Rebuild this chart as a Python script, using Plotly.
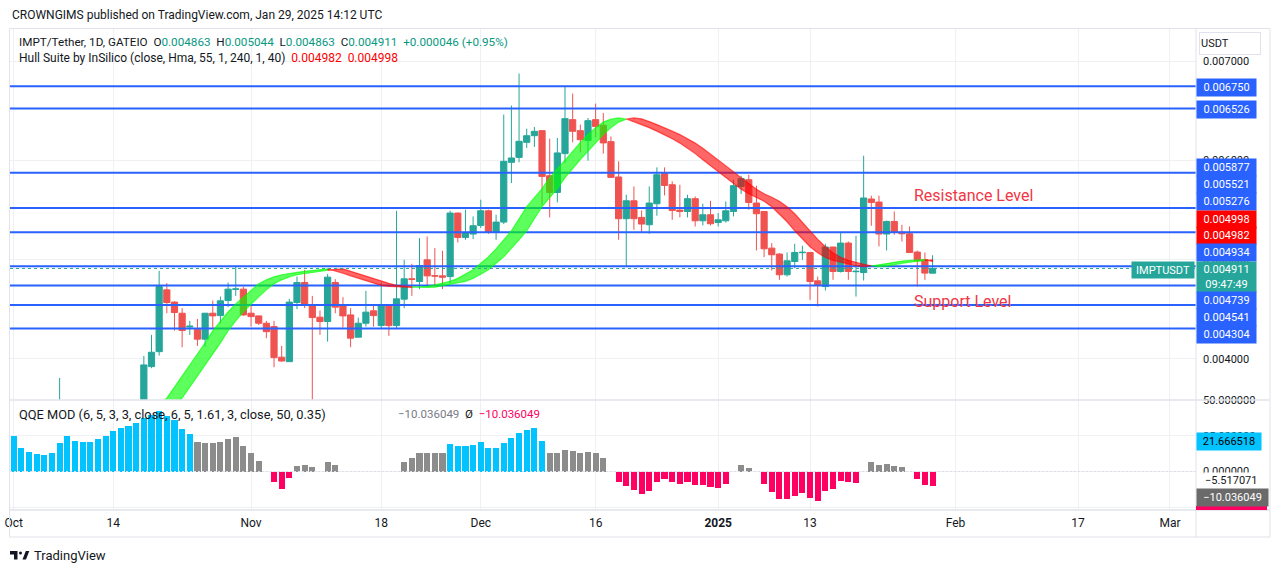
import plotly.graph_objects as go
import pandas as pd

W, H = 1281, 573


def px(x):
    return x / W


def py(y):
    return 1 - y / H


# ---------------- data ----------------
candle_dates = ["2024-10-07"] + [d.strftime("%Y-%m-%d") for d in pd.date_range("2024-10-18", "2025-01-29")]

opens = [0.003400,
         0.003500, 0.003920, 0.004071, 0.004695, 0.004571, 0.004459, 0.004320, 0.004298, 0.004197, 0.004459,
         0.004435, 0.004587, 0.004700, 0.004702,
         0.004459, 0.004432, 0.004358, 0.004324, 0.004015, 0.003970, 0.004567, 0.004769, 0.004536, 0.004419,
         0.004375, 0.004769, 0.004543, 0.004442, 0.004217, 0.004358, 0.004483, 0.004334, 0.004543, 0.004334,
         0.004601, 0.004806, 0.004779, 0.004998, 0.004838, 0.004836, 0.004829, 0.005470, 0.005224, 0.005258,
         0.005345, 0.005493, 0.005278, 0.005379, 0.005982, 0.006032, 0.006184, 0.006251, 0.006302, 0.005847,
         0.005678, 0.006070, 0.006413, 0.006302, 0.006204, 0.006413, 0.006356, 0.006191, 0.005834, 0.005413,
         0.005594, 0.005426, 0.005352, 0.005564, 0.005867, 0.005756, 0.005500, 0.005486, 0.005615, 0.005392,
         0.005453,
         0.005375, 0.005392, 0.005486, 0.005739, 0.005807, 0.005571, 0.005486, 0.005116, 0.005056, 0.004847,
         0.004981, 0.005070, 0.005072, 0.004786, 0.004728, 0.005127, 0.004880, 0.005167, 0.004878, 0.004870,
         0.005612, 0.005581, 0.005258, 0.005385, 0.005278, 0.005261, 0.005076, 0.004998, 0.004863]

highs = [0.003806,
         0.004028, 0.004240, 0.004887, 0.004763, 0.004580, 0.004510, 0.004382, 0.004402, 0.004462, 0.004587,
         0.004627, 0.004769, 0.004938, 0.004728,
         0.004533, 0.004434, 0.004382, 0.004382, 0.004129, 0.004604, 0.004829, 0.004897, 0.004634, 0.004486,
         0.004854, 0.004803, 0.004621, 0.004510, 0.004415, 0.004685, 0.004550, 0.004769, 0.004546, 0.005493,
         0.004998, 0.004958, 0.005217, 0.005234, 0.005116, 0.005089, 0.005493, 0.005475, 0.005504, 0.005436,
         0.005605, 0.005504, 0.005453, 0.006464, 0.006555, 0.006878, 0.006322, 0.006339, 0.006305, 0.006221,
         0.006228, 0.006744, 0.006676, 0.006363, 0.006430, 0.006575, 0.006481, 0.006244, 0.005992, 0.005655,
         0.005739, 0.005496, 0.005739, 0.005931, 0.005931, 0.005790, 0.005756, 0.005655, 0.005638, 0.005564,
         0.005594,
         0.005470, 0.005587, 0.005807, 0.005847, 0.005857, 0.005746, 0.005490, 0.005167, 0.005066, 0.005072,
         0.005160, 0.005140, 0.005075, 0.004829, 0.005160, 0.005130, 0.005274, 0.005183, 0.005241, 0.006049,
         0.005645, 0.005645, 0.005395, 0.005486, 0.005352, 0.005335, 0.005092, 0.005072, 0.005044]

lows = [0.003350,
        0.003450, 0.003904, 0.004031, 0.004459, 0.004284, 0.004116, 0.004240, 0.004129, 0.004122, 0.004308,
        0.004358, 0.004520, 0.004634, 0.004432,
        0.004324, 0.004341, 0.004207, 0.003914, 0.003970, 0.003968, 0.004500, 0.004510, 0.003580, 0.004240,
        0.004172, 0.004459, 0.004314, 0.004116, 0.004215, 0.004324, 0.004324, 0.004308, 0.004230, 0.004298,
        0.004510, 0.004634, 0.004702, 0.004735, 0.004735, 0.004702, 0.004763, 0.005173, 0.005200, 0.005207,
        0.005319, 0.005261, 0.005200, 0.005359, 0.005773, 0.005982, 0.006127, 0.006137, 0.005554, 0.005426,
        0.005577, 0.005976, 0.006184, 0.006083, 0.005999, 0.006234, 0.006070, 0.005828, 0.005200, 0.004924,
        0.005301, 0.005274, 0.005261, 0.005443, 0.005648, 0.005402, 0.005426, 0.005426, 0.005335, 0.005345,
        0.005345,
        0.005335, 0.005375, 0.005436, 0.005662, 0.005504, 0.005092, 0.005025, 0.004890, 0.004796, 0.004829,
        0.004914, 0.004998, 0.004594, 0.004526, 0.004688, 0.004796, 0.004870, 0.004796, 0.004627, 0.004789,
        0.005342, 0.005133, 0.005092, 0.005251, 0.005183, 0.005070, 0.004728, 0.004796, 0.004863]

closes = [0.003450,
          0.003937, 0.004065, 0.004728, 0.004567, 0.004466, 0.004284, 0.004328, 0.004197, 0.004459, 0.004432,
          0.004584, 0.004702, 0.004704, 0.004442,
          0.004425, 0.004358, 0.004273, 0.004011, 0.003977, 0.004571, 0.004769, 0.004543, 0.004415, 0.004375,
          0.004823, 0.004520, 0.004432, 0.004207, 0.004358, 0.004470, 0.004435, 0.004543, 0.004334, 0.004604,
          0.004806, 0.004801, 0.004941, 0.004836, 0.004834, 0.004823, 0.005470, 0.005224, 0.005274, 0.005342,
          0.005493, 0.005274, 0.005379, 0.005992, 0.006026, 0.006194, 0.006251, 0.006295, 0.005840, 0.005678,
          0.006077, 0.006423, 0.006295, 0.006211, 0.006403, 0.006345, 0.006178, 0.005830, 0.005413, 0.005594,
          0.005413, 0.005359, 0.005571, 0.005857, 0.005749, 0.005496, 0.005486, 0.005615, 0.005392, 0.005453,
          0.005362,
          0.005402, 0.005493, 0.005746, 0.005817, 0.005577, 0.005463, 0.005109, 0.005049, 0.004847, 0.004988,
          0.005072, 0.005074, 0.004779, 0.004745, 0.005127, 0.004880, 0.005167, 0.004880, 0.004882, 0.005622,
          0.005577, 0.005258, 0.005385, 0.005274, 0.005261, 0.005072, 0.004988, 0.004864, 0.004911]

hull_dates = [d.strftime("%Y-%m-%d") for d in pd.date_range("2024-10-17", "2025-01-29")]
hull_values = [0.003280, 0.003361, 0.003452, 0.003533, 0.003603, 0.003715, 0.003816, 0.003937, 0.004048,
               0.004159, 0.004281, 0.004382, 0.004473, 0.004553, 0.004624,
               0.004695, 0.004756, 0.004796, 0.004826, 0.004847, 0.004862, 0.004872, 0.004882, 0.004892, 0.004902,
               0.004907, 0.004887, 0.004862, 0.004836, 0.004811, 0.004786, 0.004761, 0.004740, 0.004730, 0.004725,
               0.004720, 0.004719, 0.004722, 0.004730, 0.004745, 0.004766, 0.004781, 0.004811, 0.004852, 0.004897,
               0.004963, 0.005028, 0.005109, 0.005200, 0.005291, 0.005413, 0.005534, 0.005625, 0.005716, 0.005827,
               0.005918, 0.006009, 0.006090, 0.006181, 0.006262, 0.006332, 0.006388, 0.006418, 0.006430, 0.006421,
               0.006393, 0.006363, 0.006332, 0.006297, 0.006262, 0.006221, 0.006176, 0.006125, 0.006070, 0.006009,
               0.005948,
               0.005888, 0.005827, 0.005766, 0.005711, 0.005665, 0.005630, 0.005589, 0.005534, 0.005463, 0.005382,
               0.005291, 0.005205, 0.005130, 0.005069, 0.005023, 0.004993, 0.004973, 0.004953, 0.004938, 0.004931,
               0.004935, 0.004948, 0.004963, 0.004975, 0.004985, 0.004992, 0.004998, 0.005000, 0.004982]

qqe_dates = [d.strftime("%Y-%m-%d") for d in pd.date_range("2024-10-01", "2025-01-29")]
qqe_values = [25.1, 16.7, 13.9, 12.5, 11.8, 13.2, 20.2, 25.1, 21.6, 20.4, 20.9, 22.7, 25.1, 28.6, 30.7,
              32.1, 33.7, 37.2, 39.5, 42.3, 39.0, 36.0, 29.7, 26.0, 20.9, 20.2, 20.2, 20.9, 22.7, 24.4, 18.1,
              12.7, 7.3, 0.0, -7.1, -12.5, -4.3, 3.8, 4.5, 3.4, 0.0, 6.9, 4.5, 0.0, 0.0, 0.0, 0.0, 0.0, 0.0,
              0.0, 0.0, 6.9, 9.7, 13.2, 13.2, 12.7, 12.7, 19.5, 18.1, 18.1, 18.5,
              20.9, 16.7, 16.2, 20.2, 23.7, 26.7, 29.0, 30.7, 21.6, 12.7, 12.7, 15.0, 14.3, 12.7, 13.9, 13.2,
              9.7, 0.0, -7.1, -9.9, -12.9, -15.7, -13.4, -7.1, -5.2, -7.1, -8.7, -7.1, -9.4, -9.4, -10.6,
              -11.3, -8.7, 0.0, 4.5, 2.4, 0.0, -8.7, -14.3, -19.2, -19.2, -16.9, -15.0, -18.3, -20.6, -13.4,
              -12.2, -6.4, -7.1, -8.0, 0.0, 6.6, 4.5, 5.2, 3.8, 3.1, 0.0, -5.2, -9.4, -10.036049]
qqe_state_runs = [("bull", 24), ("neutral", 10), ("bear", 3), ("neutral", 20), ("bull", 13),
                  ("neutral", 9), ("bear", 15), ("neutral", 4), ("bear", 13), ("neutral", 7), ("bear", 3)]

levels = [0.006750, 0.006526, 0.005877, 0.005521, 0.005276, 0.004934, 0.004739, 0.004541, 0.004304]
last_price = 0.004911
price_change_text = "+0.000046 (+0.95%)"
hull_last = [0.004982, 0.004998]
qqe_line_value = 21.666518
qqe_signal_value = -5.517071
qqe_last = -10.036049

x_range = ["2024-09-30 12:30", "2025-03-04 09:40"]
x_tick_dates = ["2024-10-01", "2024-10-14", "2024-11-01", "2024-11-18", "2024-12-01", "2024-12-16",
                "2025-01-01", "2025-01-13", "2025-02-01", "2025-02-17", "2025-03-01"]
x_tick_text = ["Oct", "14", "Nov", "18", "Dec", "16", "<b>2025</b>", "13", "Feb", "17", "Mar"]
price_ticks = [0.004, 0.005, 0.006, 0.007]
qqe_ticks = [50, 25, 0, -25]

# ---------------- styling ----------------
FONT = "Roboto, sans-serif"
TXT = "#131722"
GRID = "#eef0f4"
BORDER = "#e0e3eb"
UP = "#26a69a"
DOWN = "#ef5350"
BLUE = "#2962ff"
HULL_UP = "rgba(0,255,0,0.64)"
HULL_DN = "rgba(255,0,0,0.6)"
QQE_COLORS = {"bull": "#00c3ff", "neutral": "#8c8c8c", "bear": "#ff0062"}

fig = go.Figure()

# candles
fig.add_trace(go.Candlestick(
    x=candle_dates, open=opens, high=highs, low=lows, close=closes,
    increasing=dict(line=dict(color=UP, width=1), fillcolor=UP),
    decreasing=dict(line=dict(color=DOWN, width=1), fillcolor=DOWN),
    whiskerwidth=0, hoverinfo="skip", xaxis="x", yaxis="y"))

# horizontal support / resistance lines (above candles, below hull band)
for lv in levels:
    fig.add_trace(go.Scatter(x=x_range, y=[lv, lv], mode="lines", line=dict(color=BLUE, width=2),
                             hoverinfo="skip", xaxis="x", yaxis="y"))

# hull band
hd = pd.to_datetime(hull_dates)
n = len(hull_values)
up = {i: hull_values[i] > hull_values[i - 2] for i in range(3, n)}
i = 3
while i < n:
    j = i
    while j + 1 < n and up[j + 1] == up[i]:
        j += 1
    idx = list(range(i - 1, j + 1))
    xs = [hd[k] for k in idx] + [hd[k] for k in reversed(idx)]
    ys = [hull_values[k] for k in idx] + [hull_values[k - 2] for k in reversed(idx)]
    col = HULL_UP if up[i] else HULL_DN
    fig.add_trace(go.Scatter(x=xs, y=ys, mode="lines", fill="toself", fillcolor=col,
                             line=dict(color=col, width=1.2), hoverinfo="skip", xaxis="x", yaxis="y"))
    i = j + 1

# QQE histogram
states = []
for s, c in qqe_state_runs:
    states += [s] * c
fig.add_trace(go.Bar(x=qqe_dates, y=qqe_values,
                     marker=dict(color=[QQE_COLORS[s] for s in states], line=dict(width=0)),
                     width=0.8 * 86400000, hoverinfo="skip", xaxis="x", yaxis="y2"))

shapes = []
shapes.append(dict(type="line", xref="x domain", x0=0, x1=1, yref="y", y0=last_price, y1=last_price,
                   line=dict(color=UP, width=1, dash="dot"), layer="above"))
shapes.append(dict(type="line", xref="x domain", x0=0, x1=1, yref="y2", y0=0, y1=0,
                   line=dict(color="#dcdfe5", width=1, dash="2px,2px"), layer="above"))
# frame & separators
shapes.append(dict(type="rect", xref="paper", yref="paper", x0=px(9.5), x1=px(1270), y0=py(537), y1=py(28.5),
                   line=dict(color=BORDER, width=1)))
shapes.append(dict(type="line", xref="paper", yref="paper", x0=px(1196), x1=px(1196), y0=py(537), y1=py(28.5),
                   line=dict(color=BORDER, width=1)))
for yy in (400, 510):
    shapes.append(dict(type="line", xref="paper", yref="paper", x0=px(9.5), x1=px(1270), y0=py(yy), y1=py(yy),
                       line=dict(color=BORDER, width=1.5)))
shapes.append(dict(type="rect", xref="paper", yref="paper", x0=px(1196), x1=px(1267), y0=py(510), y1=py(506),
                   fillcolor="#ff0062", line=dict(width=0), layer="above"))


# TradingView logo
def path(pts):
    return "M " + " L ".join(f"{px(a):.5f},{py(b):.5f}" for a, b in pts) + " Z"


shapes.append(dict(type="path", xref="paper", yref="paper",
                   path=path([(10, 551), (17.5, 551), (17.5, 559.5), (14, 559.5), (14, 554.5), (10, 554.5)]),
                   fillcolor=TXT, line=dict(width=0)))
shapes.append(dict(type="circle", xref="paper", yref="paper", x0=px(19), x1=px(22), y0=py(554.5), y1=py(551.5),
                   fillcolor=TXT, line=dict(width=0)))
shapes.append(dict(type="path", xref="paper", yref="paper",
                   path=path([(22.5, 559.5), (25.8, 551), (29.3, 551), (26, 559.5)]),
                   fillcolor=TXT, line=dict(width=0)))

ann = []


def text(t, x, y, size=11, color=TXT, xanchor="left", **kw):
    ann.append(dict(xref="paper", yref="paper", x=px(x), y=py(y), xanchor=xanchor, yanchor="middle",
                    text=t, showarrow=False, font=dict(family=FONT, size=size, color=color), **kw))


def box(t, yc, bg, fg="white", w=57, h=15, x0=1196):
    ann.append(dict(xref="paper", yref="paper", x=px(x0), y=py(yc), xanchor="left", yanchor="middle",
                    text=t, showarrow=False, bgcolor=bg, width=w, height=h, borderpad=1, align="center",
                    font=dict(family=FONT, size=11, color=fg)))


G = "#089981"
sp = "\u00a0\u00a0"
text("CROWNGIMS published on TradingView.com, Jan 29, 2025 14:12 UTC", 10, 15, size=12)
text("IMPT/Tether, 1D, GATEIO" + sp + f"O<span style='color:{G}'>{opens[-1]:.6f}</span>" + sp +
     f"H<span style='color:{G}'>{highs[-1]:.6f}</span>" + sp + f"L<span style='color:{G}'>{lows[-1]:.6f}</span>" + sp +
     f"C<span style='color:{G}'>{closes[-1]:.6f}</span>" + sp +
     f"<span style='color:{G}'>{price_change_text}</span>", 17, 42, size=11.7)
text("Hull Suite by InSilico (close, Hma, 55, 1, 240, 1, 40)" + sp +
     f"<span style='color:#ff0000'>{hull_last[0]:.6f}</span>" + sp +
     f"<span style='color:#ff0000'>{hull_last[1]:.6f}</span>", 17, 58, size=12)
text("QQE MOD (6, 5, 3, 3, close, 6, 5, 1.61, 3, close, 50, 0.35)", 17, 414, size=12.8)
text(f"<span style='color:#787b86'>\u2212{abs(qqe_last):.6f}</span>" + sp + "\u00d8" + sp +
     f"<span style='color:#ff0062'>\u2212{abs(qqe_last):.6f}</span>", 396, 414, size=11.5)
text("Resistance Level", 912, 195.5, size=16, color="#f23645")
text("Support Level", 912, 301, size=16, color="#f23645")
text("TradingView", 32, 555, size=13)

# price scale labels
box("0.006750", 87.2, BLUE)
box("0.006526", 109.2, BLUE)
box("0.005877", 167.7, BLUE)
box("0.005521", 184.7, BLUE)
box("0.005276", 201.6, BLUE)
box(f"{hull_last[1]:.6f}", 219.0, "#ff0000")
box(f"{hull_last[0]:.6f}", 235.3, "#ff0000")
box("0.004934", 252.3, BLUE)
box(f"{last_price:.6f}<br>09:47:49", 276.7, UP, h=28)
box("0.004739", 300.9, BLUE)
box("0.004541", 317.6, BLUE)
box("0.004304", 334.4, BLUE)
ann.append(dict(xref="paper", yref="paper", x=px(1195), y=py(269.5), xanchor="right", yanchor="middle",
                text="IMPTUSDT", showarrow=False, bgcolor=UP, width=60, height=14, borderpad=1,
                font=dict(family=FONT, size=11, color="white")))
ann.append(dict(xref="paper", yref="paper", x=px(1199), y=py(43.5), xanchor="left", yanchor="middle",
                text="USDT", showarrow=False, bgcolor="white", bordercolor=BORDER, borderwidth=1,
                width=58, height=19, borderpad=1, align="left",
                font=dict(family=FONT, size=11, color=TXT)))
box(f"{qqe_line_value:.6f}", 441.4, "#00c3ff", fg="black", w=62)
text(f"\u2212{abs(qqe_signal_value):.6f}", 1203, 480, size=11, bgcolor="white")
box(f"\u2212{abs(qqe_last):.6f}", 497, "#6a6a6a", w=69)

fig.update_layout(
    width=W, height=H, margin=dict(l=0, r=0, t=0, b=0, pad=0, autoexpand=False),
    paper_bgcolor="white", plot_bgcolor="white", showlegend=False,
    boxgap=0.1, boxgroupgap=0.1, bargap=0,
    font=dict(family=FONT, size=11, color=TXT),
    xaxis=dict(domain=[px(10), px(1196)], anchor="y2", type="date", automargin=False,
               range=x_range,
               tickmode="array", tickvals=x_tick_dates, ticktext=x_tick_text,
               showgrid=True, gridcolor=GRID, gridwidth=1, zeroline=False, showline=False, ticks="",
               tickfont=dict(family=FONT, size=12, color=TXT), ticklabelstandoff=4,
               rangeslider=dict(visible=False), fixedrange=True),
    yaxis=dict(domain=[py(400), py(28.5)], anchor="x", side="right", automargin=False,
               range=[0.003583, 0.007333], tickmode="array", tickvals=price_ticks,
               ticktext=[f"{v:.6f}" for v in price_ticks],
               showgrid=True, gridcolor=GRID, zeroline=False, showline=False, ticks="",
               ticklabelstandoff=6, tickfont=dict(family=FONT, size=11, color=TXT)),
    yaxis2=dict(domain=[py(510), py(400)], anchor="x", side="right", automargin=False,
                range=[-26.92, 50.0], tickmode="array", tickvals=qqe_ticks,
                ticktext=[f"{v:.6f}" if v >= 0 else "" for v in qqe_ticks],
                showgrid=True, gridcolor=GRID, zeroline=False, showline=False, ticks="",
                ticklabelstandoff=6, tickfont=dict(family=FONT, size=11, color=TXT)),
    shapes=shapes, annotations=ann,
)

fig.write_html("out.html")
